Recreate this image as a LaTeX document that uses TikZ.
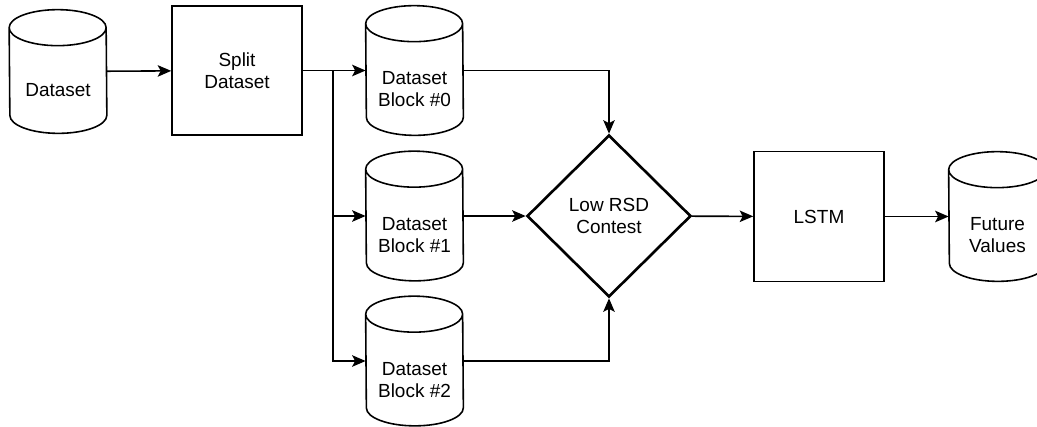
\documentclass[tikz,border=0pt]{standalone}
\usepackage{fontspec}
\setmainfont{Liberation Sans}
\usetikzlibrary{arrows.meta,shapes.geometric}

\begin{document}
\begin{tikzpicture}
  [font=\fontsize{10.8}{12.5}\selectfont,
   box/.style={rectangle,draw,line width=0.9pt,minimum width=2.6cm,minimum height=2.6cm,align=center},
   cyl/.style={minimum width=1.94cm,minimum height=2.58cm,inner sep=0pt,
     append after command={\pgfextra{
       \draw[line width=0.9pt] ([yshift=-0.36cm]\tikzlastnode.north west)
         arc[start angle=180,end angle=0,x radius=0.97cm,y radius=0.36cm]
         -- ([yshift=0.36cm]\tikzlastnode.south east)
         arc[start angle=0,end angle=-180,x radius=0.97cm,y radius=0.36cm]
         -- cycle
         ([yshift=-0.36cm]\tikzlastnode.north west)
         arc[start angle=180,end angle=360,x radius=0.97cm,y radius=0.36cm];}}},
   cyltext/.style={align=center,yshift=-0.38cm},
   test/.style={diamond,draw,line width=1.5pt,minimum width=3.28cm,minimum height=3.24cm,inner sep=0pt,align=center},
   flow/.style={line width=0.9pt,-{Stealth[length=0.27cm,width=0.23cm,inset=0.06cm]}}]
  \useasboundingbox (0,0) rectangle (20.74,-8.54);
  \clip (0,0) rectangle (20.74,-8.54);

  \node[cyl,minimum height=2.46cm,label={[cyltext]center:Dataset}] (ds) at (1.16,-1.43) {};
  \node[box,minimum height=2.58cm] (split) at (4.74,-1.41) {Split\\Dataset};
  \coordinate (fork) at (6.66,-1.41);

  \node[cyl,label={[cyltext]center:Dataset\\Block \#0}] (b0) at (8.29,-1.41) {};
  \node[cyl,label={[cyltext]center:Dataset\\Block \#1}] (b1) at (8.29,-4.32) {};
  \node[cyl,label={[cyltext]center:Dataset\\Block \#2}] (b2) at (8.29,-7.22) {};

  \node[test] (rsd) at (12.18,-4.32) {Low RSD\\Contest};
  \node[box] (lstm) at (16.38,-4.33) {LSTM};
  \node[cyl,label={[cyltext]center:Future\\Values}] (fv) at (19.95,-4.33) {};

  \foreach \from/\to in {ds/split,split/b0,b1/rsd,rsd/lstm,lstm/fv}
    \path (\from) edge [flow] (\to);
  \foreach \blk in {b1,b2}
    \draw[flow] (fork) |- (\blk);
  \draw[flow] (b0) -| (rsd);
  \draw[flow] (b2) -| (rsd);
\end{tikzpicture}
\end{document}
